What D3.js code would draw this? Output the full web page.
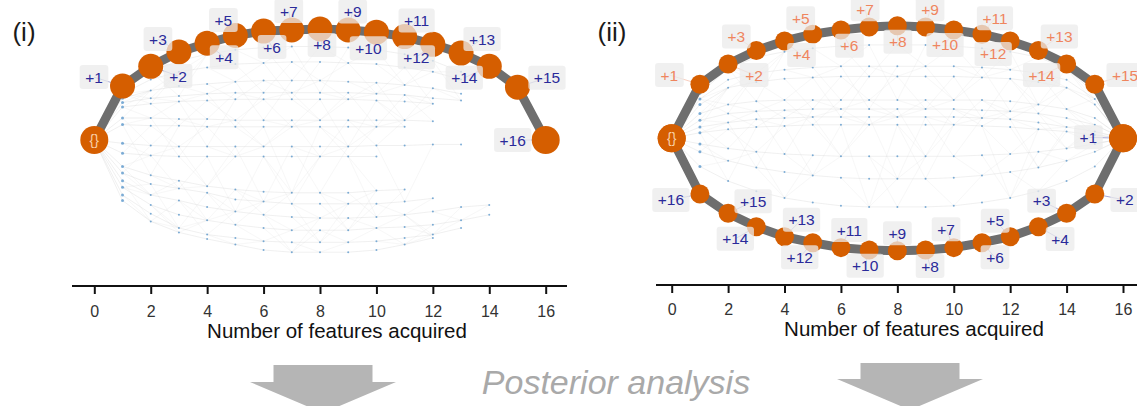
<!DOCTYPE html>
<html><head><meta charset="utf-8">
<script src="https://cdn.jsdelivr.net/npm/d3@7"></script>
<style>
body{margin:0;background:#fff;}
svg{display:block;font-family:"Liberation Sans",Arial,sans-serif;}
</style>
</head><body>
<svg id="c" width="1137" height="406"></svg>
<script>
// ---------------- data ----------------
const steps = [0,1,2,3,4,5,6,7,8,9,10,11,12,13,14,15,16];
const tickValues = [0,2,4,6,8,10,12,14,16];
const axisTitle = "Number of features acquired";
const panelTags = ["(i)", "(ii)"];
const middleText = "Posterior analysis";

// panel (i): acquisition path (layout position of each state)
const pathI = [0, 0.49, 0.67, 0.80, 0.88, 0.95, 0.99, 1.00, 1.01, 1.00, 0.98, 0.94, 0.87, 0.79, 0.67, 0.48, 0];
const labelsI = ["{}","+1","+2","+3","+4","+5","+6","+7","+8","+9","+10","+11","+12","+13","+14","+15","+16"];

// panel (ii): two acquisition paths
const pathIItop = [0, 0.48, 0.66, 0.78, 0.865, 0.925, 0.963, 0.99, 1.0, 0.99, 0.963, 0.925, 0.865, 0.78, 0.66, 0.48, 0];
const labelsIItop = ["{}","+1","+2","+3","+4","+5","+6","+7","+8","+9","+10","+11","+12","+13","+14","+15",""];
const pathIIbottom = [0, -0.495, -0.667, -0.786, -0.875, -0.928, -0.972, -0.993, -1.0, -0.993, -0.972, -0.928, -0.875, -0.786, -0.667, -0.495, 0];
const labelsIIbottom = ["","+16","+15","+14","+13","+12","+11","+10","+9","+8","+7","+6","+5","+4","+3","+2","+1"];

// background explored states, panel (i)
const bgI_a = [0, 0.45, 0.62, 0.72, 0.78, 0.82, 0.84, 0.85, 0.85, 0.84, 0.82, 0.78, 0.72, 0.62];
const bgI_b = [0, 0.42, 0.55, 0.62, 0.66, 0.69, 0.70, 0.71, 0.71, 0.70, 0.69, 0.66, 0.62, 0.55];
const bgI_c = [0, 0.38, 0.45, 0.49, 0.51, 0.53, 0.54, 0.54, 0.54, 0.53, 0.52, 0.50, 0.47, 0.42];
const bgI_d = [0, 0.34, 0.38, 0.40, 0.42, 0.43, 0.43, 0.43, 0.43, 0.43, 0.42, 0.41, 0.38, 0.36];
const bgI_e = [0, 0.30, 0.33, 0.35, 0.36, 0.37, 0.37, 0.37, 0.37, 0.37, 0.36, 0.35, 0.33];
const bgI_f = [0, 0.20, 0.20, 0.19, 0.19, 0.18, 0.18, 0.18, 0.18, 0.18, 0.18, 0.18, 0.17];
const bgI_g = [0, 0.14, 0.13, 0.13, 0.12, 0.12, 0.12, 0.12, 0.12, 0.12, 0.12, 0.12];
const bgI_h = [0, -0.03, -0.05, -0.06, -0.06, -0.06, -0.06, -0.06, -0.06, -0.06, -0.05, -0.05, -0.04, -0.04];
const bgI_i = [0, -0.12, -0.14, -0.15, -0.15, -0.15, -0.15, -0.15, -0.15, -0.15, -0.15];
const bgI_j = [0, -0.24, -0.32, -0.37, -0.42, -0.45, -0.47, -0.48, -0.48, -0.48, -0.46, -0.45];
const bgI_k = [0, -0.30, -0.40, -0.44, -0.48, -0.54, -0.56, -0.58, -0.58, -0.58, -0.58, -0.56, -0.53];
const bgI_l = [0, -0.37, -0.50, -0.55, -0.61, -0.65, -0.68, -0.70, -0.71, -0.71, -0.70, -0.68, -0.65, -0.61, -0.59];
const bgI_m = [0, -0.43, -0.59, -0.68, -0.73, -0.77, -0.80, -0.82, -0.82, -0.82, -0.80, -0.79, -0.77, -0.73, -0.68];
const bgI_n = [0, -0.50, -0.67, -0.80, -0.86, -0.89, -0.92, -0.93, -0.93, -0.93, -0.92, -0.89, -0.86, -0.80];
const bgI_o = [0, -0.55, -0.74, -0.84, -0.90, -0.95, -1.00, -1.02, -1.02, -1.02, -1.00, -0.95, -0.89];

// background explored states, panel (ii)
const bgII_a = [0, 0.40, 0.62, 0.72, 0.77, 0.80, 0.82, 0.83, 0.83, 0.83, 0.82, 0.80, 0.77, 0.72, 0.62, 0.40, 0];
const bgII_b = [0, 0.35, 0.52, 0.58, 0.61, 0.63, 0.64, 0.64, 0.64, 0.64, 0.64, 0.63, 0.61, 0.58, 0.52, 0.35, 0];
const bgII_c = [0, 0.30, 0.45, 0.50, 0.53, 0.54, 0.55, 0.55, 0.55, 0.55, 0.55, 0.54, 0.53, 0.50, 0.45, 0.30, 0];
const bgII_d = [0, 0.22, 0.30, 0.33, 0.34, 0.34, 0.34, 0.34, 0.34, 0.34, 0.34, 0.34, 0.33, 0.30, 0.26, 0.18, 0];
const bgII_e = [0, 0.16, 0.22, 0.24, 0.25, 0.26, 0.26, 0.26, 0.26, 0.26, 0.26, 0.25, 0.24, 0.22, 0.18, 0.12, 0];
const bgII_f = [0, 0.10, 0.14, 0.17, 0.18, 0.19, 0.19, 0.19, 0.19, 0.19, 0.19, 0.18, 0.17, 0.14, 0.10, 0.06, 0];
const bgII_g = [0, 0.05, 0.08, 0.10, 0.11, 0.12, 0.12, 0.12, 0.12, 0.12, 0.12, 0.11, 0.10, 0.08, 0.06, 0.03, 0];
const bgII_h = [0, -0.05, -0.09, -0.12, -0.14, -0.15, -0.16, -0.16, -0.16, -0.16, -0.16, -0.15, -0.14, -0.12, -0.09, -0.05, 0];
const bgII_i = [0, -0.12, -0.20, -0.26, -0.30, -0.33, -0.35, -0.36, -0.36, -0.36, -0.35, -0.33, -0.30, -0.26, -0.20, -0.12, 0];
const bgII_j = [0, -0.25, -0.38, -0.47, -0.53, -0.57, -0.60, -0.61, -0.61, -0.61, -0.60, -0.57, -0.53, -0.47, -0.38, -0.25, 0];

// ---------------- layout ----------------
const offI = [null,[-28.5,-9],[27.3,9.7],[-21,-13],[17,14],[-12,-15.5],[8.5,16],[-3,-19],[2,16],[4.5,-18.5],[-8,16],[12,-16],[-16.5,13],[21,-14],[-25,11.5],[29.5,-9.5],[-33,0]];
const offIItop = [null,[-30.5,-9.3],[26,11],[-20,-14],[17,14],[-12,-16],[8.5,15.7],[-4,-17.6],[0.5,16],[4.5,-17.6],[-8.7,15],[13,-16],[-17,13],[21,-14],[-25,11],[30.3,-9.3],null];
const offIIbot = [null,[-29,6],[25,-12],[-21,12],[17,-17],[-13,14.6],[8.4,-17.6],[-4,15.7],[0,-17.5],[4.5,16],[-7.7,-18.3],[13,14.6],[-15,-16],[21.7,12.3],[-25,-12.6],[30,6],[-34.6,-1]];

const ORANGE = "#d55e00", BLUE_TXT = "#2a2a9a", ORANGE_TXT = "#ef855e";

const panels = [
  {xr:[94.3,545.7], yc:140, yu:110, axisY:286, axisExt:[72,567], tickBase:316.7, titleX:337, titleBase:338, tagX:24, r:12.5, rEnd:14,
   paths:[{vals:pathI, labels:labelsI, offs:offI, col:BLUE_TXT}],
   bg:[bgI_a,bgI_b,bgI_c,bgI_d,bgI_e,bgI_f,bgI_g,bgI_h,bgI_i,bgI_j,bgI_k,bgI_l,bgI_m,bgI_n,bgI_o]},
  {xr:[671.7,1123], yc:138.3, yu:112.5, axisY:285, axisExt:[656,1150], tickBase:314.5, titleX:914, titleBase:335.5, tagX:612, r:9.5, rEnd:14,
   paths:[{vals:pathIItop, labels:labelsIItop, offs:offIItop, col:ORANGE_TXT},
          {vals:pathIIbottom, labels:labelsIIbottom, offs:offIIbot, col:BLUE_TXT}],
   bg:[bgII_a,bgII_b,bgII_c,bgII_d,bgII_e,bgII_f,bgII_g,bgII_h,bgII_i,bgII_j]}
];

const svg = d3.select("#c");

panels.forEach((p, pi) => {
  const x = d3.scaleLinear().domain([0,16]).range(p.xr);
  const y = d3.scaleLinear().domain([-1,1]).range([p.yc + p.yu, p.yc - p.yu]);
  const g = svg.append("g");
  const line = d3.line().x((d,i)=>x(steps[i])).y(d=>y(d));

  // background lines
  const gbg = g.append("g");
  p.bg.forEach(arr => {
    gbg.append("path").attr("d", line(arr)).attr("fill","none")
      .attr("stroke","#c8c8c8").attr("stroke-width",0.8).attr("opacity",0.35);
  });
  // cross edges between neighbouring explored paths
  p.bg.forEach((a, ai) => {
    [1,2,3].forEach(step => {
      const b = p.bg[ai+step];
      if (!b) return;
      const n = Math.min(a.length, b.length) - 1;
      for (let k = 1; k < n; k++) {
        const m = (k + ai + step) % (step + 2);
        if (m === 0) gbg.append("line").attr("x1",x(steps[k])).attr("y1",y(a[k])).attr("x2",x(steps[k+1])).attr("y2",y(b[k+1]))
            .attr("stroke","#cccccc").attr("stroke-width",0.7).attr("opacity",0.2);
        else if (m === 1) gbg.append("line").attr("x1",x(steps[k])).attr("y1",y(b[k])).attr("x2",x(steps[k+1])).attr("y2",y(a[k+1]))
            .attr("stroke","#cccccc").attr("stroke-width",0.7).attr("opacity",0.2);
      }
    });
  });
  // background dots
  p.bg.forEach(arr => {
    arr.forEach((v,i) => {
      if (i === 0 || i === 16) return;
      gbg.append("circle").attr("cx",x(steps[i])).attr("cy",y(v)).attr("r", i===1?1.5:1.0)
        .attr("fill","#2b7bc0").attr("opacity",0.6);
    });
  });

  // axis
  const ax = g.append("g").attr("transform",`translate(0,${p.axisY})`);
  ax.append("line").attr("x1",p.axisExt[0]).attr("x2",p.axisExt[1]).attr("y1",0).attr("y2",0)
    .attr("stroke","#111").attr("stroke-width",2);
  const axis = d3.axisBottom(x).tickValues(tickValues).tickSize(8).tickSizeOuter(0).tickFormat(d3.format("d"));
  const axg = ax.append("g").call(axis);
  axg.select(".domain").remove();
  axg.selectAll(".tick line").attr("stroke","#111").attr("stroke-width",2);
  axg.selectAll(".tick text").attr("y", p.tickBase - p.axisY).attr("dy",null)
    .attr("font-size",16).attr("fill","#333").attr("font-family","'Liberation Sans',Arial,sans-serif");
  g.append("text").attr("x",p.titleX).attr("y",p.titleBase).attr("text-anchor","middle")
    .attr("font-size",20.5).attr("fill","#111").text(axisTitle);

  // panel tag
  g.append("text").attr("x",p.tagX).attr("y",41).attr("text-anchor","middle")
    .attr("font-size",26).attr("fill","#1a1a1a").text(panelTags[pi]);

  // main paths
  p.paths.forEach(pt => {
    g.append("path").attr("d", line(pt.vals)).attr("fill","none")
      .attr("stroke","#6e6e6e").attr("stroke-width",9).attr("stroke-linejoin","round").attr("stroke-linecap","round");
  });
  // connectors
  p.paths.forEach(pt => {
    pt.vals.forEach((v,i) => {
      const o = pt.offs[i];
      if (!o || !pt.labels[i]) return;
      g.append("line").attr("x1",x(steps[i])).attr("y1",y(v)).attr("x2",x(steps[i])+o[0]).attr("y2",y(v)+o[1])
        .attr("stroke",pt.col).attr("stroke-width",0.8).attr("opacity",0.5);
    });
  });
  // nodes
  p.paths.forEach(pt => {
    pt.vals.forEach((v,i) => {
      g.append("circle").attr("cx",x(steps[i])).attr("cy",y(v))
        .attr("r", (i===0||i===16) ? p.rEnd : p.r).attr("fill",ORANGE);
    });
  });
  // start-node text
  g.append("text").attr("x",x(0)).attr("y",y(0)).attr("text-anchor","middle").attr("dominant-baseline","central")
    .attr("font-size",14).attr("fill","#f9cfa6").text(labelsI[0]);

  // labels
  p.paths.forEach(pt => {
    pt.vals.forEach((v,i) => {
      const o = pt.offs[i];
      const t = pt.labels[i];
      if (!o || !t) return;
      const cx = x(steps[i]) + o[0], cy = y(v) + o[1];
      const lg = g.append("g");
      const rect = lg.append("rect");
      const tx = lg.append("text").attr("x",cx).attr("y",cy).attr("text-anchor","middle")
        .attr("dominant-baseline","central").attr("font-size",15.5).attr("fill",pt.col).text(t);
      const w = tx.node().getComputedTextLength() + 11;
      rect.attr("x",cx - w/2).attr("y",cy - 12).attr("width",w).attr("height",24).attr("rx",3)
        .attr("fill","#ebebeb").attr("opacity",0.75);
    });
  });
});

// bottom arrows and text
const arrows = [{cx:323, shaftTop:365, headTop:382, tip:413}, {cx:910, shaftTop:363, headTop:379, tip:410}];
arrows.forEach(a => {
  const sh = 49.5, hh = 73;
  const pts = [[a.cx-sh,a.shaftTop],[a.cx+sh,a.shaftTop],[a.cx+sh,a.headTop],[a.cx+hh,a.headTop],[a.cx,a.tip],
               [a.cx-hh,a.headTop],[a.cx-sh,a.headTop]];
  svg.append("polygon").attr("points", pts.map(d=>d.join(",")).join(" ")).attr("fill","#b5b5b5");
});
svg.append("text").attr("x",616).attr("y",394).attr("text-anchor","middle")
  .attr("font-size",34).attr("font-style","italic").attr("fill","#a9a9a9").text(middleText);
</script>
</body></html>
